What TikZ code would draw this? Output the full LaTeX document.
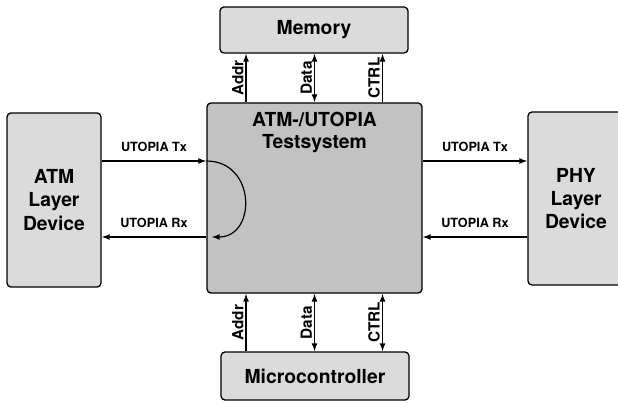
\documentclass[tikz,border=0pt]{standalone}
\usepackage{fontspec}
\setsansfont{TeX Gyre Heros}
\usetikzlibrary{arrows.meta}

\tikzset{
  blockbox/.style={draw, line width=1pt, rounded corners=3pt, fill=black!14, font=\sffamily\bfseries\fontsize{14.5}{17.3}\selectfont, align=center, inner sep=0pt},
  sigline/.style={line width=0.9pt},
  sigtip/.style={-{Latex[length=6pt,width=4.5pt]}},
  sigboth/.style={{Latex[length=6pt,width=4.5pt]}-{Latex[length=6pt,width=4.5pt]}},
  siglabel/.style={font=\sffamily\bfseries\fontsize{9.5}{11}\selectfont, inner sep=2pt, midway, anchor=south, yshift=4.5pt},
  buslabel/.style={font=\sffamily\bfseries\fontsize{11.5}{13}\selectfont, inner sep=1.5pt, midway, anchor=south, rotate=90}
}

\begin{document}
\begin{tikzpicture}[x=0.75pt,y=0.75pt,yscale=-1]
\useasboundingbox (0,0) rectangle (618,403);

%Blocks
\node[blockbox, minimum width=70.5pt, minimum height=130.5pt] (atm) at (54,200) {ATM\\Layer\\Device};
\node[blockbox, minimum width=72pt, minimum height=129.75pt] (phy) at (576,198.5) {PHY\\Layer\\Device};
\node[blockbox, fill=black!24, minimum width=161.25pt, minimum height=142.5pt] (ts) at (314.5,198) {};
\node[blockbox, minimum width=141pt, minimum height=34.5pt] (mem) at (314,30) {Memory};
\node[blockbox, minimum width=141pt, minimum height=36pt] (mc) at (315,376) {Microcontroller};
% Text Node
\node[font=\sffamily\bfseries\fontsize{14.5}{16.5}\selectfont, align=center, anchor=north, inner sep=0pt] (tstitle) at ([yshift=7pt]ts.north) {ATM-/UTOPIA\\Testsystem};

%Bus positions
\coordinate (xaddr) at (246,0);
\coordinate (xdata) at (314.5,0);
\coordinate (xctrl) at (382.5,0);
\coordinate (ytx) at (0,161);
\coordinate (yrx) at (0,237);

%Memory bus
\draw[sigline, sigtip] (ts.north -| xaddr) -- node[buslabel] {Addr} (mem.south -| xaddr);
\draw[sigline, sigboth] (ts.north -| xdata) -- node[buslabel] {Data} (mem.south -| xdata);
\draw[sigline, sigtip] (ts.north -| xctrl) -- node[buslabel] {CTRL} (mem.south -| xctrl);

%Microcontroller bus
\draw[sigline, sigtip] (mc.north -| xaddr) -- node[buslabel] {Addr} (ts.south -| xaddr);
\draw[sigline, sigboth] (mc.north -| xdata) -- node[buslabel] {Data} (ts.south -| xdata);
\draw[sigline, sigboth] (mc.north -| xctrl) -- node[buslabel] {CTRL} (ts.south -| xctrl);

%ATM side with loop back
\draw[sigline, sigtip] (atm.east |- ytx) -- node[siglabel] {UTOPIA Tx} (ts.west |- ytx);
\draw[sigline, sigtip] (ts.west |- ytx) .. controls +(50,0) and +(45,0) .. ([xshift=4pt]ts.west |- yrx);
\draw[sigline, sigtip] (ts.west |- yrx) -- node[siglabel] {UTOPIA Rx} (atm.east |- yrx);

%PHY side
\draw[sigline, sigtip] (ts.east |- ytx) -- node[siglabel] {UTOPIA Tx} (phy.west |- ytx);
\draw[sigline, sigtip] (phy.west |- yrx) -- node[siglabel] {UTOPIA Rx} (ts.east |- yrx);

\end{tikzpicture}
\end{document}
